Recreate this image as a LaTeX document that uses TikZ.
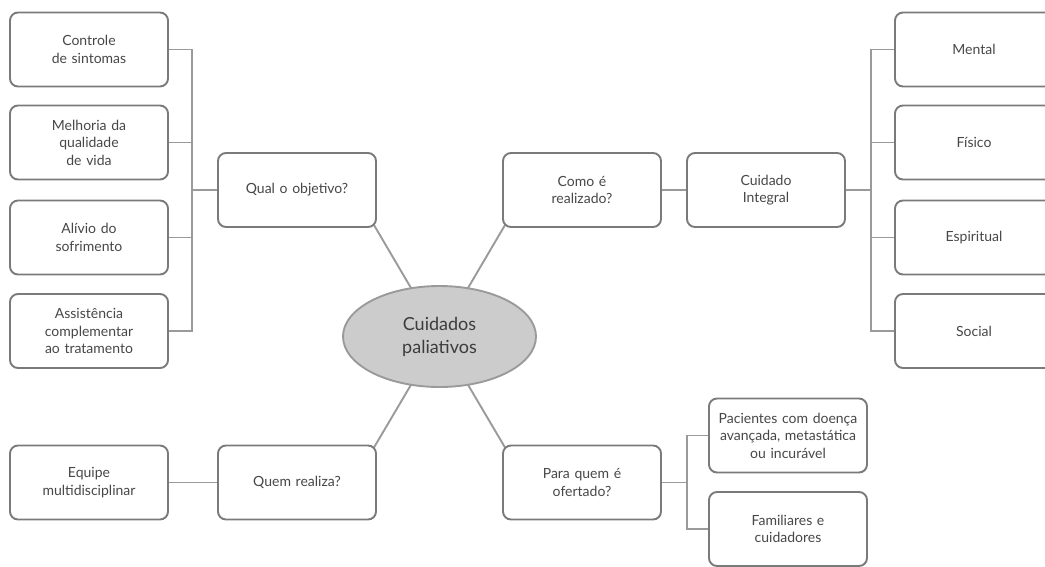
\documentclass[tikz,border=0pt]{standalone}
\usepackage{fontspec}
\setmainfont{Lato}
\usetikzlibrary{backgrounds,calc,shapes.geometric}
\definecolor{boxline}{HTML}{7A7A7A}
\definecolor{conn}{HTML}{9A9A9A}
\definecolor{txt}{HTML}{474747}
\definecolor{ellfill}{HTML}{CCCCCC}
\begin{document}
\begin{tikzpicture}[x=1pt,y=-1pt,
  box/.style={draw=boxline, line width=1.9pt, rounded corners=8pt, fill=white,
    minimum width=158pt, minimum height=74pt, align=center, text=txt,
    font=\fontsize{14}{17.5}\selectfont, inner sep=0pt, text width=154pt},
  link/.style={draw=conn, line width=1.9pt},
  hub/.style={ellipse, draw=conn, line width=1.9pt, fill=ellfill,
    minimum width=193pt, minimum height=101pt, align=center, text=txt!85!black,
    font=\fontsize{18}{23}\selectfont, inner sep=0pt}
]
\useasboundingbox (0,0) rectangle (1045,566);
\clip (0,0) rectangle (1045,566);

% left group
\node[box] (c1) at (89,49.5) {Controle\\de sintomas};
\node[box] (c2) at (89,142.5) {Melhoria da\\qualidade\\de vida};
\node[box] (c3) at (89,237.5) {Alívio do\\sofrimento};
\node[box] (c4) at (89,331) {Assistência\\complementar\\ao tratamento};
\node[box] (qual) at (297,190) {Qual o objetivo?};

% right group
\node[box] (como) at (582,190) {Como é\\realizado?};
\node[box] (integ) at (766,190) {Cuidado\\Integral};
\node[box] (mental) at (974,49.5) {Mental};
\node[box] (fisico) at (974,142.5) {Físico};
\node[box] (esp) at (974,237.5) {Espiritual};
\node[box] (social) at (974,331) {Social};

% centre
\node[hub] (ell) at (439.5,336.5) {Cuidados\\paliativos};

% bottom
\node[box] (quem) at (297,482.5) {Quem realiza?};
\node[box] (equipe) at (89,482.5) {Equipe\\multidisciplinar};
\node[box] (para) at (582,482.5) {Para quem é\\ofertado?};
\node[box] (pac) at (788,435.5) {Pacientes com doença\\avançada, metastática\\ou incurável};
\node[box] (fam) at (788,529) {Familiares e\\cuidadores};

\coordinate (lb) at (192,190);
\coordinate (rb) at (871,190);
\coordinate (pb) at (687,482.5);

\begin{pgfonlayer}{background}
  \draw[link] (c1.east) -| (lb);
  \draw[link] (c2.east) -| (lb);
  \draw[link] (c3.east) -| (lb);
  \draw[link] (c4.east) -| (lb);
  \draw[link] (lb) -- (qual.west);

  \draw[link] (como.east) -- (integ.west);
  \draw[link] (integ.east) -- (rb);
  \draw[link] (mental.west) -| (rb);
  \draw[link] (fisico.west) -| (rb);
  \draw[link] (esp.west) -| (rb);
  \draw[link] (social.west) -| (rb);

  \draw[link] (equipe.east) -- (quem.west);
  \draw[link] (para.east) -- (pb);
  \draw[link] (pac.west) -| (pb);
  \draw[link] (fam.west) -| (pb);

  \draw[link] (ell.center) -- ($(qual.south east)+(-3,-3)$);
  \draw[link] (ell.center) -- ($(como.south west)+(3,-3)$);
  \draw[link] (ell.center) -- ($(quem.north east)+(-3,3)$);
  \draw[link] (ell.center) -- ($(para.north west)+(3,3)$);
\end{pgfonlayer}
\end{tikzpicture}
\end{document}
